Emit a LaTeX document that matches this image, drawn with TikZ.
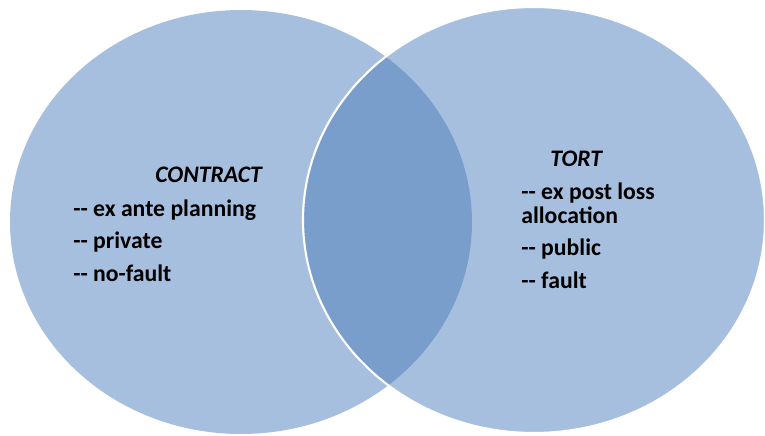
\documentclass[tikz,border=0pt]{standalone}
\usepackage{fontspec}
\setmainfont{Carlito}
\usetikzlibrary{positioning}
\definecolor{vennlight}{RGB}{167,191,222}
\definecolor{venndark}{RGB}{122,158,203}

\begin{document}
\begin{tikzpicture}[x=0.02cm, y=-0.02cm,
  item/.style={anchor=base west, inner sep=0pt, font=\fontsize{13.5}{15}\selectfont\bfseries},
  head/.style={item, font=\fontsize{13.5}{15}\selectfont\bfseries\itshape}]

\useasboundingbox (0,0) rectangle (765,436);

% === Two sets ===
\fill[vennlight] (241,222) ellipse [x radius=231, y radius=212];
\fill[vennlight] (534,220) ellipse [x radius=231, y radius=213];
% overlap
\begin{scope}
  \clip (241,222) ellipse [x radius=231, y radius=212];
  \fill[venndark] (534,220) ellipse [x radius=231, y radius=213];
\end{scope}
\draw[white, line width=1.2pt] (534,220) ellipse [x radius=231, y radius=213];

% === LEFT: Contract ===
\node[head] (contract) at (155,182) {CONTRACT};
\node[item] (exante) at (73,216) {-{}- ex ante planning};
\node[item] (private) at (73,248) {-{}- private};
\node[item] (nofault) at (73,281) {-{}- no-fault};

% === RIGHT: Tort ===
\node[head] (tort) at (550,166) {TORT};
\node[item] (expost) at (521,199) {-{}- ex post loss};
\node[item] (alloc) at (521,223) {allocation};
\node[item] (public) at (521,255) {-{}- public};
\node[item] (fault) at (521,288) {-{}- fault};

\end{tikzpicture}
\end{document}
